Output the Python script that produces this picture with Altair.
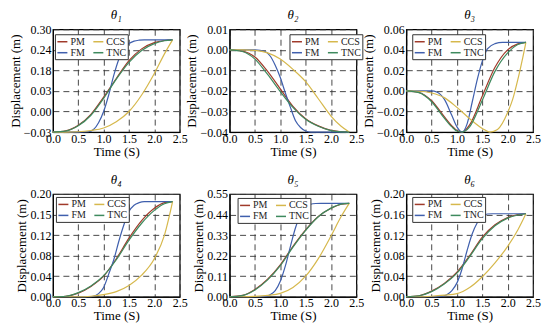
import altair as alt
import pandas as pd

METHODS = ["PM", "FM", "CCS", "TNC"]
COLORS = ["#A03A2A", "#3F5FAD", "#D6B84C", "#3E8A5E"]

X_TICKS = [0.0, 0.5, 1.0, 1.5, 2.0, 2.5]

T_STD = [0, 0.25, 0.5, 0.75, 1.0, 1.25, 1.5, 1.75, 2.0, 2.2, 2.36]
T_FM = [0, 0.5, 0.7, 0.8, 0.9, 1.0, 1.1, 1.2, 1.3, 1.4, 1.5, 1.6, 1.7, 1.8, 2.0, 2.36]

# panel 1 (theta1)
P1_PM = [-0.03, -0.026, -0.008, 0.027, 0.082, 0.142, 0.199, 0.237, 0.257, 0.264, 0.266]
P1_TNC = [-0.03, -0.027, -0.010, 0.024, 0.078, 0.140, 0.194, 0.232, 0.254, 0.263, 0.266]
P1_CCS = [-0.03, -0.03, -0.029, -0.025, -0.017, 0.003, 0.036, 0.089, 0.158, 0.221, 0.266]
P1_FM = [-0.03, -0.03, -0.029, -0.022, 0.0, 0.036, 0.089, 0.152, 0.204, 0.237, 0.254, 0.262, 0.265, 0.266, 0.266, 0.266]
P1_TICKS = [-0.03, 0.036, 0.102, 0.168, 0.234, 0.30]
P1_LABELS = ["\u22120.03", "0.00", "0.03", "0.18", "0.24", "0.30"]

# panel 2 (theta2)
P2_PM = [0, -0.0006, -0.0035, -0.0105, -0.019, -0.0275, -0.0335, -0.037, -0.0392, -0.0398, -0.04]
P2_TNC = [0, -0.0008, -0.0045, -0.012, -0.0203, -0.028, -0.0338, -0.0372, -0.0393, -0.0399, -0.04]
P2_CCS = [0, 0, -0.0003, -0.0015, -0.0045, -0.0095, -0.0155, -0.0238, -0.0322, -0.0372, -0.04]
P2_FM = [0, 0, -0.0008, -0.003, -0.0075, -0.0135, -0.021, -0.028, -0.0345, -0.0378, -0.0395, -0.04, -0.04, -0.04, -0.04, -0.04]
P2_TICKS = [-0.04, -0.03, -0.02, -0.01, 0.0, 0.01]
P2_LABELS = ["\u22120.04", "\u22120.03", "\u22120.02", "\u22120.01", "0.00", "0.01"]

# panel 3 (theta3)
T3_STD = [0, 0.25, 0.5, 0.75, 0.9, 1.0, 1.1, 1.25, 1.5, 1.75, 2.0, 2.2, 2.36]
T3_FM = [0, 0.5, 0.6, 0.75, 0.9, 1.0, 1.1, 1.2, 1.3, 1.4, 1.5, 1.6, 1.75, 1.9, 2.36]
T3_CCS = [0, 0.25, 0.5, 0.75, 1.0, 1.25, 1.5, 1.65, 1.8, 2.0, 2.1, 2.2, 2.3, 2.36]
P3_PM = [0, -0.0015, -0.0095, -0.025, -0.034, -0.0385, -0.04, -0.033, -0.005, 0.023, 0.040, 0.0458, 0.0473]
P3_TNC = [0, -0.0017, -0.0105, -0.0265, -0.035, -0.039, -0.04, -0.035, -0.009, 0.019, 0.037, 0.0452, 0.0473]
P3_FM = [0, 0, -0.001, -0.008, -0.024, -0.035, -0.04, -0.032, -0.011, 0.011, 0.029, 0.041, 0.046, 0.0473, 0.0473]
P3_CCS = [0, -0.0003, -0.002, -0.0065, -0.016, -0.027, -0.0365, -0.04, -0.0375, -0.021, -0.008, 0.011, 0.033, 0.0473]
P3_TICKS = [-0.04, -0.02, 0.0, 0.02, 0.04, 0.06]
P3_LABELS = ["\u22120.04", "\u22120.02", "0.00", "0.02", "0.04", "0.06"]

# panel 4 (theta4)
P4_PM = [0, 0.001, 0.007, 0.020, 0.040, 0.074, 0.114, 0.148, 0.172, 0.183, 0.185]
P4_TNC = [0, 0.001, 0.008, 0.021, 0.041, 0.072, 0.110, 0.143, 0.168, 0.181, 0.185]
P4_CCS = [0, 0, 0, 0.001, 0.004, 0.010, 0.022, 0.042, 0.074, 0.120, 0.185]
P4_FM = [0, 0, 0, 0.001, 0.006, 0.018, 0.044, 0.072, 0.108, 0.140, 0.166, 0.178, 0.183, 0.185, 0.185, 0.185]
P4_TICKS = [0.0, 0.04, 0.08, 0.12, 0.16, 0.20]
P4_LABELS = ["0.00", "0.04", "0.08", "0.12", "0.15", "0.20"]

# panel 5 (theta5)
P5_PM = [0, 0.007, 0.039, 0.094, 0.171, 0.270, 0.358, 0.429, 0.473, 0.495, 0.50]
P5_TNC = [0, 0.006, 0.036, 0.090, 0.166, 0.265, 0.355, 0.428, 0.474, 0.496, 0.50]
P5_CCS = [0, 0, 0.002, 0.007, 0.018, 0.050, 0.11, 0.204, 0.325, 0.429, 0.50]
P5_FM = [0, 0, 0.002, 0.011, 0.033, 0.083, 0.165, 0.270, 0.369, 0.44, 0.479, 0.495, 0.499, 0.50, 0.50, 0.50]
P5_TICKS = [0.0, 0.11, 0.22, 0.33, 0.44, 0.55]
P5_LABELS = ["0.00", "0.11", "0.22", "0.33", "0.44", "0.55"]

# panel 6 (theta6)
P6_PM = [0, 0.002, 0.011, 0.026, 0.048, 0.080, 0.116, 0.140, 0.154, 0.160, 0.1615]
P6_TNC = [0, 0.002, 0.010, 0.025, 0.046, 0.078, 0.113, 0.138, 0.153, 0.159, 0.1615]
P6_CCS = [0, 0, 0.001, 0.003, 0.006, 0.018, 0.039, 0.066, 0.098, 0.130, 0.1615]
P6_FM = [0, 0, 0.001, 0.004, 0.012, 0.027, 0.054, 0.090, 0.122, 0.144, 0.156, 0.161, 0.1615, 0.1615, 0.1615, 0.1615]
P6_TICKS = [0.0, 0.04, 0.08, 0.12, 0.16, 0.20]
P6_LABELS = ["0.00", "0.04", "0.08", "0.12", "0.16", "0.20"]

TITLES = ["\u03b8\u2081", "\u03b8\u2082", "\u03b8\u2083", "\u03b8\u2084", "\u03b8\u2085", "\u03b8\u2086"]

FONT = "Liberation Serif"
W, H = 127, 103


def label_expr(vals, labs):
    expr = "''"
    for v, l in reversed(list(zip(vals, labs))):
        expr = f"abs(datum.value - ({v})) < 1e-6 ? '{l}' : ({expr})"
    return expr


def panel(title, series, ticks, labels, lx, ly):
    rows = []
    for method, (ts, ys) in series.items():
        for t, y in zip(ts, ys):
            rows.append({"t": t, "y": y, "method": method})
    df = pd.DataFrame(rows)
    return (
        alt.Chart(df, title=alt.TitleParams(text=title, font=FONT, fontSize=13, fontStyle="italic",
                                            fontWeight="normal", offset=1, color="black"))
        .mark_line(strokeWidth=1.2, interpolate="monotone")
        .encode(
            x=alt.X("t:Q", scale=alt.Scale(domain=[0, 2.5], nice=False),
                    axis=alt.Axis(values=X_TICKS, format=".1f", title="Time (S)",
                                  labelFont=FONT, titleFont=FONT, labelFontSize=12,
                                  titleFontSize=13, titleFontWeight="normal",
                                  labelFontWeight="normal",
                                  labelPadding=1, titlePadding=1)),
            y=alt.Y("y:Q", scale=alt.Scale(domain=[ticks[0], ticks[-1]], nice=False, zero=False),
                    axis=alt.Axis(values=ticks, labelExpr=label_expr(ticks, labels),
                                  title="Displacement (m)",
                                  labelFont=FONT, titleFont=FONT, labelFontSize=12,
                                  titleFontSize=13, titleFontWeight="normal",
                                  labelFontWeight="normal",
                                  labelPadding=2, titlePadding=1)),
            color=alt.Color("method:N",
                            scale=alt.Scale(domain=METHODS, range=COLORS),
                            legend=alt.Legend(title=None, orient="none", legendX=lx, legendY=ly,
                                              columns=2, symbolType="stroke", symbolSize=100,
                                              symbolStrokeWidth=1.5, labelFont=FONT,
                                              labelFontSize=10, labelColor="#222",
                                              strokeColor="#333", fillColor="white",
                                              padding=1.5, rowPadding=0, columnPadding=5,
                                              labelOffset=2)),
        )
        .properties(width=W, height=H)
    )


charts = [
    panel(TITLES[0], {"PM": (T_STD, P1_PM), "FM": (T_FM, P1_FM), "CCS": (T_STD, P1_CCS), "TNC": (T_STD, P1_TNC)},
          P1_TICKS, P1_LABELS, 2, 5),
    panel(TITLES[1], {"PM": (T_STD, P2_PM), "FM": (T_FM, P2_FM), "CCS": (T_STD, P2_CCS), "TNC": (T_STD, P2_TNC)},
          P2_TICKS, P2_LABELS, 60, 5),
    panel(TITLES[2], {"PM": (T3_STD, P3_PM), "FM": (T3_FM, P3_FM), "CCS": (T3_CCS, P3_CCS), "TNC": (T3_STD, P3_TNC)},
          P3_TICKS, P3_LABELS, 6, 5),
    panel(TITLES[3], {"PM": (T_STD, P4_PM), "FM": (T_FM, P4_FM), "CCS": (T_STD, P4_CCS), "TNC": (T_STD, P4_TNC)},
          P4_TICKS, P4_LABELS, 3, 3),
    panel(TITLES[4], {"PM": (T_STD, P5_PM), "FM": (T_FM, P5_FM), "CCS": (T_STD, P5_CCS), "TNC": (T_STD, P5_TNC)},
          P5_TICKS, P5_LABELS, 8, 4),
    panel(TITLES[5], {"PM": (T_STD, P6_PM), "FM": (T_FM, P6_FM), "CCS": (T_STD, P6_CCS), "TNC": (T_STD, P6_TNC)},
          P6_TICKS, P6_LABELS, 6, 3),
]

chart = (
    alt.concat(*charts, columns=3, spacing={"row": 62, "column": 50}, bounds="flush")
    .resolve_scale(x="independent", y="independent", color="independent")
    .resolve_legend(color="independent")
    .properties(padding=0)
    .configure_axis(
        labelColor="black", titleColor="black",
        domainColor="black", domainWidth=1, grid=True, gridDash=[6, 4], gridColor="#333",
        gridWidth=0.9, gridOpacity=1, ticks=False,
        labelFlush=False, labelOverlap=False,
    )
    .configure_view(stroke="black", strokeWidth=1.2)
)

chart.save("out.html", embed_options={"renderer": "svg", "actions": False})
